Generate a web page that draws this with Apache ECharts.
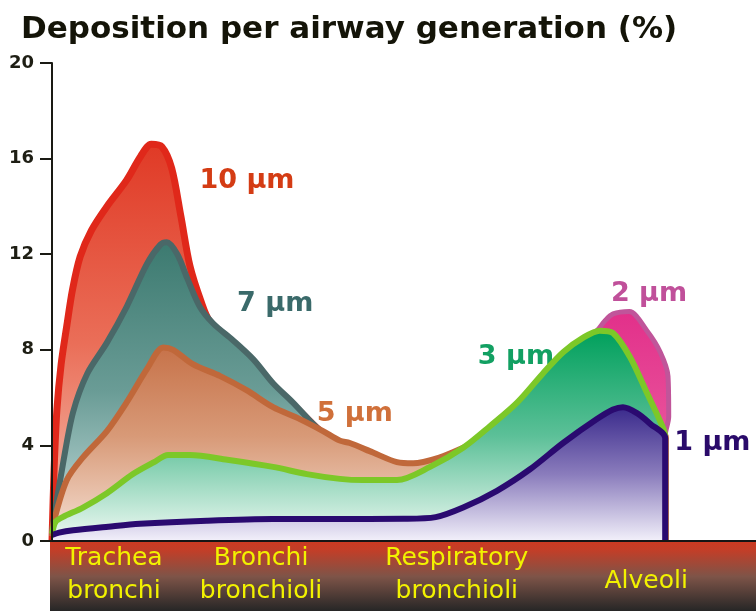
<!DOCTYPE html>
<html>
<head>
<meta charset="utf-8">
<title>Deposition per airway generation</title>
<script src="https://cdn.jsdelivr.net/npm/echarts@6/dist/echarts.min.js"></script>
<style>
  html, body { margin: 0; padding: 0; background: #ffffff; }
  #chart { width: 756px; height: 612px; }
</style>
</head>
<body>
<div id="chart"></div>
<script>
// Airway regions along the x scale (0 = trachea entrance, 100 = right edge of band)
const regionNames = ['Trachea\nbronchi', 'Bronchi\nbronchioli', 'Respiratory\nbronchioli', 'Alveoli'];
const regionCentres = [8.8, 29.7, 57.5, 84.4];

// Y axis ticks (%)
const yTicks = [0, 4, 8, 12, 16, 20];

// Particle sizes and their deposition curves: [position, % deposited]
const sizes = ['10 µm', '7 µm', '5 µm', '2 µm', '3 µm', '1 µm'];

const dep10 = [[0,0],[0.3,3.0],[0.7,5.5],[1.3,7.4],[2.1,9.0],[2.9,10.5],[4.0,11.9],[5.6,13.0],[7.8,14.0],[10.6,15.1],[12.6,16.1],[14.1,16.6],[15.6,16.5],[17.0,15.6],[18.3,13.6],[19.6,11.5],[21.2,10.0],[22.4,9.2],[25.7,8.32],[28.6,7.52],[31.4,6.52],[34.2,5.72],[36.6,5.02],[38.5,4.52],[40.9,4.12],[42.3,4.02],[45.6,3.62],[49.0,3.22],[51.3,3.17],[55.1,3.42],[58.4,3.82],[61.2,4.22],[62.2,4.72],[66.1,5.72],[69.7,6.92],[72.6,7.82],[75.4,8.42],[77.8,8.72],[79.7,8.62],[82.1,7.62],[84.5,6.12],[86.4,4.92],[87.1,4.3],[87.1,0]];
const dep7 = [[0,0.2],[0.2,0.8],[1.6,3.3],[3.0,5.4],[5.0,7.0],[7.8,8.3],[10.6,9.8],[13.5,11.6],[15.4,12.4],[16.3,12.5],[17.8,12.0],[19.2,11.0],[21.0,9.8],[22.9,9.1],[25.7,8.4],[28.6,7.6],[31.4,6.6],[34.2,5.8],[36.6,5.05],[38.5,4.52],[40.9,4.12],[42.3,4.02],[45.6,3.62],[49.0,3.22],[51.3,3.17],[55.1,3.42],[58.4,3.82],[61.2,4.22],[62.2,4.72],[66.1,5.72],[69.7,6.92],[72.6,7.82],[75.4,8.42],[77.8,8.72],[79.7,8.62],[82.1,7.62],[84.5,6.12],[86.4,4.92],[87.1,4.3],[87.1,0]];
const dep5 = [[0,0.2],[0.2,0.75],[2.1,2.55],[4.4,3.5],[7.8,4.6],[10.6,5.8],[13.5,7.2],[15.8,8.1],[17.2,8.0],[20.0,7.4],[23.9,6.9],[27.7,6.3],[31.4,5.6],[35.2,5.1],[38.5,4.6],[40.9,4.2],[42.3,4.1],[45.6,3.7],[49.0,3.3],[51.3,3.25],[55.1,3.5],[58.4,3.9],[61.2,4.3],[62.2,4.72],[66.1,5.72],[69.7,6.92],[72.6,7.82],[75.4,8.42],[77.8,8.72],[79.7,8.62],[82.1,7.62],[84.5,6.12],[86.4,4.92],[87.1,4.3],[87.1,0]];
const dep2 = [[66.1,5.72],[69.7,6.92],[72.6,7.82],[75.4,8.42],[77.4,8.8],[78.5,9.2],[79.7,9.5],[82.0,9.6],[84.5,8.8],[86.4,7.9],[87.5,6.9],[87.6,5.2],[87.1,4.4],[87.1,0]];
const dep3 = [[0,0.3],[0.5,0.8],[1.5,1.0],[4.4,1.4],[7.8,2.0],[11.5,2.8],[14.5,3.3],[16.5,3.6],[19.6,3.6],[24.9,3.4],[31.4,3.1],[36.2,2.8],[40.9,2.6],[44.2,2.55],[49.0,2.55],[53.7,3.1],[58.4,3.9],[62.2,4.8],[66.1,5.8],[69.7,7.0],[72.6,7.9],[75.4,8.5],[77.8,8.8],[79.7,8.7],[82.1,7.7],[84.5,6.2],[86.4,5.0],[87.1,4.4],[87.1,0]];
const dep1 = [[0,0.25],[1,0.35],[3,0.45],[8,0.6],[12.5,0.72],[22,0.85],[31.4,0.92],[40,0.92],[50,0.93],[54.5,1.0],[58.4,1.4],[63.2,2.1],[67.9,3.0],[72.6,4.1],[77.4,5.1],[79.7,5.5],[81.1,5.6],[83.1,5.35],[85.0,4.9],[87.1,4.3],[87.1,0]];

// Where each size label sits, in chart coordinates
const labelAnchors = [[27.7,15.06],[31.7,9.92],[43.0,5.31],[84.8,10.33],[65.9,7.70],[93.8,4.1]];

const seriesData = [dep10, dep7, dep5, dep2, dep3, dep1];

const styles = [
  { line: '#e0281a', width: 7, top: '#e03a26', mid: '#ea6e58', bottom: '#f6c6b6', text: '#d43c14' },
  { line: '#4a6868', width: 6, top: '#3c7a70', mid: '#6a9c96', bottom: '#cce2e2', text: '#3a6a6a' },
  { line: '#c0683a', width: 6, top: '#c46c42', mid: '#d89a78', bottom: '#f6e2d6', text: '#d0703a' },
  { line: '#c0559a', width: 5, top: '#e2308a', mid: '#e8509a', bottom: '#f07ab2', text: '#c0509a' },
  { line: '#7cc828', width: 6, top: '#00a05c', mid: '#5cc098', bottom: '#f0faf4', text: '#12a062' },
  { line: '#2a0a70', width: 6, top: '#3a2a8c', mid: '#8a7cbc', bottom: '#f2f0fa', text: '#2a0a6a' }
];

const chart = echarts.init(document.getElementById('chart'), null, { renderer: 'canvas' });

function vgrad(stops) {
  return new echarts.graphic.LinearGradient(0, 0, 0, 1, stops);
}

// Each size gets its own layer so a curve's fill hides the outline of the one behind it
const series = seriesData.map((d, i) => {
  const s = styles[i];
  return {
    name: sizes[i],
    type: 'line',
    data: d,
    smooth: 0.3,
    showSymbol: false,
    symbol: 'none',
    lineStyle: { color: s.line, width: s.width, join: 'round' },
    areaStyle: {
      opacity: 1,
      color: vgrad([
        { offset: 0, color: s.top },
        { offset: 0.5, color: s.mid },
        { offset: 1, color: s.bottom }
      ])
    },
    markPoint: {
      symbol: 'circle',
      symbolSize: 1,
      itemStyle: { color: 'rgba(0,0,0,0)' },
      label: {
        show: true,
        position: 'inside',
        formatter: sizes[i],
        color: s.text,
        fontFamily: 'DejaVu Sans',
        fontWeight: 'bold',
        fontSize: 27
      },
      data: [{ coord: labelAnchors[i] }]
    },
    z: 2 + i
  };
});

const labelFont = { color: '#f2f200', fontFamily: 'DejaVu Sans', fontSize: 25, lineHeight: 33 };

const option = {
  backgroundColor: '#ffffff',
  animation: false,
  title: {
    text: 'Deposition per airway generation (%)',
    left: 16,
    top: 9,
    textStyle: {
      fontFamily: 'DejaVu Sans',
      fontWeight: 'bold',
      fontSize: 31,
      color: '#141408'
    }
  },
  grid: { left: 52, right: 0, top: 63, bottom: 71, containLabel: false },
  xAxis: {
    type: 'value',
    min: 0,
    max: 100,
    z: 12,
    axisLine: { show: true, lineStyle: { color: '#151515', width: 2 } },
    axisTick: { show: false },
    splitLine: { show: false },
    axisLabel: {
      customValues: regionCentres,
      formatter: function (v) {
        let best = 0;
        regionCentres.forEach((c, i) => { if (Math.abs(c - v) < Math.abs(regionCentres[best] - v)) best = i; });
        const name = regionNames[best];
        return name.indexOf('\n') < 0 ? '{one|' + name + '}' : name;
      },
      rich: {
        one: Object.assign({ padding: [12, 0, 0, 0] }, labelFont)
      },
      color: labelFont.color,
      fontFamily: labelFont.fontFamily,
      fontSize: labelFont.fontSize,
      lineHeight: labelFont.lineHeight,
      verticalAlign: 'middle',
      margin: 34
    }
  },
  yAxis: {
    type: 'value',
    min: yTicks[0],
    max: yTicks[yTicks.length - 1],
    interval: yTicks[1] - yTicks[0],
    z: 12,
    axisLine: { show: true, lineStyle: { color: '#1a1a14', width: 2 } },
    axisTick: { show: true, length: 12, lineStyle: { color: '#1a1a14', width: 2 } },
    splitLine: { show: false },
    axisLabel: {
      color: '#1e1e14',
      fontFamily: 'DejaVu Sans',
      fontWeight: 'bold',
      fontSize: 18,
      margin: 18
    }
  },
  graphic: [{
    type: 'rect',
    left: 50,
    top: 542,
    z: 1,
    shape: { width: 706, height: 69 },
    style: {
      fill: vgrad([
        { offset: 0, color: '#cc3a22' },
        { offset: 0.12, color: '#c23e28' },
        { offset: 0.5, color: '#7e5448' },
        { offset: 1, color: '#262626' }
      ])
    }
  }],
  series: series
};

chart.setOption(option);
</script>
</body>
</html>
